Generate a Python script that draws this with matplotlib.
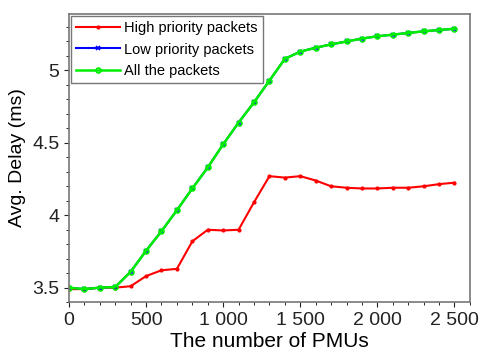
import numpy as np
import matplotlib.pyplot as plt
from matplotlib.ticker import FuncFormatter, MultipleLocator

plt.rcParams['font.family'] = ['Liberation Sans', 'DejaVu Sans']

# Data
pmus = list(range(0, 2600, 100))
high = [3.49, 3.49, 3.50, 3.50, 3.51, 3.58, 3.62, 3.63, 3.82, 3.90, 3.895, 3.90, 4.09,
        4.27, 4.26, 4.27, 4.24, 4.20, 4.19, 4.185, 4.185, 4.19, 4.19, 4.20, 4.215, 4.225]
allp = [3.50, 3.49, 3.50, 3.505, 3.61, 3.755, 3.89, 4.035, 4.185, 4.33, 4.49, 4.64, 4.78,
        4.93, 5.08, 5.13, 5.157, 5.18, 5.20, 5.22, 5.236, 5.247, 5.259, 5.27, 5.279, 5.288]
low = allp

fig = plt.figure(figsize=(4.79, 3.58), dpi=100)
ax = fig.add_axes([0.144, 0.156, 0.837, 0.805])

ax.plot(pmus, high, color='#ff0000', marker='.', markersize=4, lw=1.5, label='High priority packets')
ax.plot(pmus, low, color='#0000ff', marker='x', markersize=3, mew=1.2, lw=1.5, label='Low priority packets')
ax.plot(pmus, allp, color='#00ee00', marker='o', markersize=3.5, mfc='none', mew=1.2, lw=1.8,
        label='All the packets')

ax.set_xlim(0, 2600)
ax.set_ylim(3.4, 5.39)
ax.xaxis.set_major_locator(MultipleLocator(500))
ax.xaxis.set_minor_locator(MultipleLocator(100))
ax.yaxis.set_major_locator(MultipleLocator(0.5))
ax.yaxis.set_minor_locator(MultipleLocator(0.1))
ax.xaxis.set_major_formatter(FuncFormatter(lambda v, p: f"{int(v):,}".replace(",", " ")))
ax.yaxis.set_major_formatter(FuncFormatter(lambda v, p: f"{v:g}"))
ax.tick_params(labelsize=14, colors='#222222', width=0.8)
ax.tick_params(which='minor', length=2.5, width=0.6)
for s in ax.spines.values():
    s.set_color('#777777')
    s.set_linewidth(1.2)

ax.set_xlabel('The number of PMUs', fontsize=15, labelpad=2)
ax.set_ylabel('Avg. Delay (ms)', fontsize=14)
ax.legend(loc='upper left', fontsize=10.5, fancybox=False, edgecolor='#777777',
          handlelength=3.0, handletextpad=0.3, borderaxespad=0.15, borderpad=0.35,
          labelspacing=0.5, framealpha=1)

fig.savefig('out.png', dpi=100)
